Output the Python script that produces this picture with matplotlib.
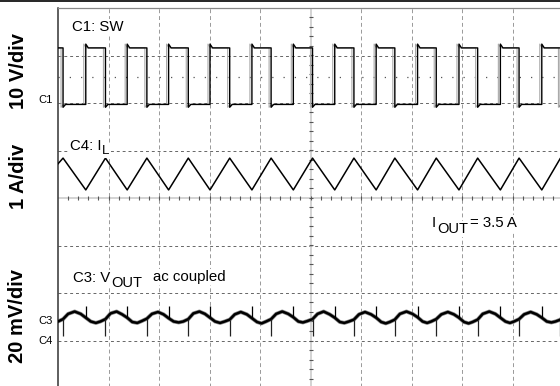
import numpy as np
import matplotlib
matplotlib.use("Agg")
import matplotlib.pyplot as plt
from matplotlib.lines import Line2D
from matplotlib.transforms import IdentityTransform

plt.rcParams['font.family'] = ['Liberation Sans', 'DejaVu Sans']

W, H = 560, 386

# switch node (C1), 10 V/div, times in divisions
sw_rise = [0.55, 1.37, 2.19, 3.01, 3.84, 4.66, 5.48, 6.30, 7.12, 7.94, 8.76, 9.58]
sw_fall = [0.10, 0.94, 1.76, 2.58, 3.40, 4.22, 5.04, 5.86, 6.67, 7.49, 8.31, 9.13, 9.95]
sw_high = 3.16
sw_low = 1.97

# inductor current (C4), 1 A/div
il_t = [0.0, 0.10, 0.55, 0.94, 1.37, 1.76, 2.19, 2.58, 3.01, 3.40, 3.84, 4.22, 4.66,
        5.04, 5.48, 5.86, 6.30, 6.67, 7.12, 7.49, 7.94, 8.31, 8.76, 9.13, 9.58, 9.95, 10.0]
il_v = [0.72, 0.84, 0.17, 0.84, 0.17, 0.84, 0.17, 0.84, 0.17, 0.84, 0.17, 0.84, 0.17,
        0.84, 0.17, 0.84, 0.17, 0.84, 0.17, 0.84, 0.17, 0.84, 0.17, 0.84, 0.17, 0.84, 0.76]

# output voltage ripple (C3), 20 mV/div ac coupled
vout_t = [0.00,
          0.10, 0.20, 0.33, 0.45, 0.55, 0.65, 0.75, 0.84,
          0.94, 1.04, 1.16, 1.27, 1.37, 1.47, 1.57, 1.66,
          1.76, 1.86, 1.98, 2.09, 2.19, 2.29, 2.39, 2.48,
          2.58, 2.68, 2.80, 2.91, 3.01, 3.11, 3.21, 3.30,
          3.40, 3.50, 3.62, 3.74, 3.84, 3.94, 4.03, 4.12,
          4.22, 4.32, 4.44, 4.56, 4.66, 4.76, 4.85, 4.94,
          5.04, 5.14, 5.26, 5.38, 5.48, 5.58, 5.67, 5.76,
          5.86, 5.96, 6.08, 6.20, 6.30, 6.40, 6.49, 6.57,
          6.67, 6.77, 6.90, 7.02, 7.12, 7.22, 7.31, 7.39,
          7.49, 7.59, 7.72, 7.84, 7.94, 8.04, 8.13, 8.21,
          8.31, 8.41, 8.54, 8.66, 8.76, 8.86, 8.95, 9.03,
          9.13, 9.23, 9.36, 9.48, 9.58, 9.68, 9.77, 9.85,
          9.95, 10.00]
vout_v = [-2.60,
          -2.55, -2.44, -2.39, -2.44, -2.52, -2.60, -2.63, -2.60,
          -2.55, -2.43, -2.39, -2.45, -2.52, -2.61, -2.63, -2.59,
          -2.54, -2.44, -2.40, -2.45, -2.53, -2.60, -2.62, -2.60,
          -2.55, -2.43, -2.39, -2.44, -2.52, -2.60, -2.63, -2.60,
          -2.56, -2.45, -2.40, -2.45, -2.53, -2.61, -2.64, -2.60,
          -2.55, -2.44, -2.39, -2.44, -2.51, -2.60, -2.62, -2.59,
          -2.55, -2.44, -2.39, -2.45, -2.52, -2.61, -2.63, -2.60,
          -2.56, -2.45, -2.40, -2.45, -2.52, -2.61, -2.64, -2.61,
          -2.56, -2.44, -2.39, -2.44, -2.51, -2.60, -2.63, -2.60,
          -2.55, -2.45, -2.40, -2.45, -2.52, -2.61, -2.64, -2.61,
          -2.56, -2.44, -2.39, -2.44, -2.52, -2.60, -2.63, -2.60,
          -2.55, -2.45, -2.40, -2.45, -2.52, -2.60, -2.62, -2.60,
          -2.56, -2.50]
spike_up = -2.27
spike_dn = -2.90

fig = plt.figure(figsize=(W / 100, H / 100), dpi=100)
ax = fig.add_axes([58 / W, -2 / H, 505 / W, 380 / H])
ax.set_xlim(0, 10)
ax.set_ylim(-4, 4)
ax.set_xticks([])
ax.set_yticks([])
for s in ['right', 'bottom']:
    ax.spines[s].set_visible(False)
ax.spines['left'].set_color('#333333')
ax.spines['left'].set_linewidth(1.1)
ax.spines['top'].set_color('#888888')
ax.spines['top'].set_linewidth(0.9)

# graticule
for x in range(1, 10):
    if x != 5:
        ax.axvline(x, color='#999999', lw=0.7, ls=(0, (4, 3)), zorder=1)
for y in range(-3, 4):
    if y != 0:
        ax.axhline(y, color='#666666', lw=0.7, ls=(0, (3, 3)), zorder=1)
ax.axhline(0, color='#c8c8c8', lw=1.1, zorder=1)
ax.axvline(5, color='#c8c8c8', lw=1.1, zorder=1)
mx = np.arange(0.2, 10, 0.2)
ax.plot(mx, np.zeros_like(mx), ls='none', marker='|', ms=3.5, mew=0.8, color='#555555', zorder=1)
my = np.arange(-3.8, 4, 0.2)
ax.plot(np.full_like(my, 5), my, ls='none', marker='_', ms=3, mew=0.8, color='#555555', zorder=1)
ax.axhline(2.55, color='#555555', lw=0.9, ls=(0, (1, 8)), zorder=1)

# switch node trace (two overlapped sweeps)
edges = sorted([(t, 'r') for t in sw_rise] + [(t, 'f') for t in sw_fall])
sx, sy = [0.0], [sw_high]
for t, k in edges:
    if k == 'r':
        sx += [t, t, t + 0.05]
        sy += [sw_low, sw_high + 0.08, sw_high]
    else:
        sx += [t, t, t + 0.05]
        sy += [sw_high, sw_low - 0.06, sw_low]
sx.append(10.0)
sy.append(sy[-1])
sx = np.array(sx)
ax.plot(sx - 0.04, sy, color='#aaaaaa', lw=0.8, zorder=2)
ax.plot(sx, sy, color='black', lw=1.0, zorder=3)

# inductor current
ax.plot(il_t, il_v, color='black', lw=1.1, zorder=3)

# output voltage
ax.plot(vout_t, vout_v, color='#888888', lw=2.8, zorder=2, solid_joinstyle='round')
ax.plot(vout_t, vout_v, color='black', lw=1.8, zorder=3, solid_joinstyle='round')
ax.vlines(sw_rise, np.interp(sw_rise, vout_t, vout_v), spike_up, color='black', lw=0.9, zorder=3)
ax.vlines(sw_fall, np.interp(sw_fall, vout_t, vout_v), spike_dn, color='#222222', lw=0.9, zorder=3)

# very top border line
fig.add_artist(Line2D([0, 1], [1 - 1 / H, 1 - 1 / H], color='black', lw=1.2))


def put(px, py, s, **kw):
    kw.setdefault('fontsize', 10.8)
    return fig.text(px, H - py, s, transform=IdentityTransform(), **kw)


box = dict(facecolor='white', edgecolor='none', pad=1.0)
put(72, 31, 'C1: SW', bbox=box)
put(70, 150, 'C4: I', bbox=box)
put(102, 154, 'L', fontsize=9.5, bbox=box)
put(73, 282, 'C3: V', bbox=box)
put(111, 287, 'OUT', fontsize=10.5, bbox=box)
put(153, 281, 'ac coupled', bbox=box)
put(432, 227, 'I', bbox=box)
put(437, 233, 'OUT', fontsize=10.5, bbox=box)
put(470, 227, '= 3.5 A', bbox=box)

for py, s in [(71, '10 V/div'), (176, '1 A/div'), (316, '20 mV/div')]:
    put(18, py, s, fontsize=14.5, fontweight='bold', rotation=90, ha='center', va='center')
for py, s in [(100, 'C1'), (321, 'C3'), (341, 'C4')]:
    put(53, py, s, fontsize=8, ha='right', va='center')

fig.savefig('out.png', dpi=100)
